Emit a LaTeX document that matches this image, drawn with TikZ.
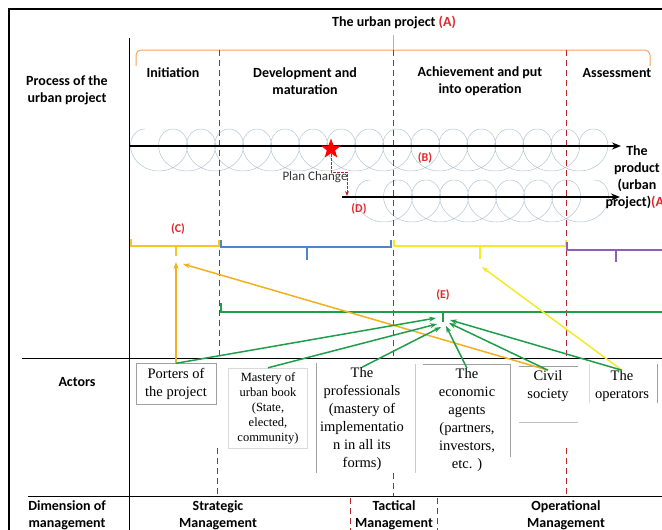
\documentclass[tikz,border=0pt]{standalone}
\usepackage{fontspec}
\setmainfont{Liberation Serif}
\newfontfamily\headfont{Carlito}
\usetikzlibrary{shapes.geometric,arrows.meta}

\definecolor{labred}{HTML}{E0262B}
\definecolor{dashred}{HTML}{B5262C}
\definecolor{braceor}{HTML}{F2A35E}
\definecolor{coilgray}{HTML}{B4C4D2}
\definecolor{phyellow}{HTML}{F3C623}
\definecolor{phyellowb}{HTML}{F2EA2A}
\definecolor{phblue}{HTML}{4A86C8}
\definecolor{phpurple}{HTML}{8B5FBF}
\definecolor{actgreen}{HTML}{1E9E4A}
\definecolor{actorange}{HTML}{F2B01E}
\definecolor{boxgray}{HTML}{A0A0A0}

\begin{document}
\begin{tikzpicture}[x=1pt,y=-1pt,
	head/.style={font=\headfont\bfseries\fontsize{14}{17}\selectfont, align=center, inner sep=0pt},
	redlab/.style={font=\headfont\bfseries\fontsize{12}{14}\selectfont, text=labred, inner sep=0pt},
	actor/.style={font=\fontsize{14.5}{18}\selectfont, align=center, inner sep=0pt},
	dashline/.style={dashred, dash pattern=on 6pt off 4pt, line width=1pt},
	coilline/.style={coilgray, line width=0.5pt},
	mainarrow/.style={line width=1.8pt, -{Stealth[length=9pt,width=7pt]}},
	grarrow/.style={actgreen, line width=1.5pt, -{Stealth[length=7pt,width=5pt]}},
	oarrow/.style={actorange, line width=1.5pt, -{Stealth[length=7pt,width=5pt]}},
	yarrow/.style={phyellowb, line width=1.5pt, -{Stealth[length=7pt,width=5pt]}},
	]
	\useasboundingbox (0,0) rectangle (662,530);
	
	% frame and the grid
	\draw[line width=1.2pt] (9,530) -- (9,9) -- (662,9);
	\draw[line width=1pt] (129,38) -- (129,530);
	\draw[line width=1pt] (22,358) -- (662,358);
	\draw[line width=1pt] (28,496) -- (662,496);
	
	% row titles
	\node[head] (proc) at (67,90) {Process of the\\urban project};
	\node[head] (actors) at (77,382) {Actors};
	\node[head] (dimen) at (67,515) {Dimension of\\management};
	
	% the urban project and its phases
	\node[head] (title) at (394,22) {The urban project \textcolor{labred}{(A)}};
	\coordinate (brtop) at (393,35);
	\draw[braceor, line width=1pt, rounded corners=5pt] (136,66) -- (136,50) -- (650,50) -- (650,66);
	\draw[braceor, line width=1pt] (brtop) -- (393,50);
	\node[head] (ini) at (173,73) {Initiation};
	\node[head] (dev) at (305,81) {Development and\\maturation};
	\node[head] (ach) at (480,81) {Achievement and put\\into operation};
	\node[head] (assess) at (617,73) {Assessment};
	
	% loops of the process
	\def\ca{4.46} % pas
	\def\cb{21} % rayon
	\draw[coilline] plot[domain=0:5850, samples=1100, variable=\t]
		({145 + (\t/57.2958)*\ca - \cb*sin(\t)}, {150 - \cb*cos(\t)});
	\draw[coilline] plot[domain=0:2880, samples=600, variable=\t]
		({370 + (\t/57.2958)*\ca - \cb*sin(\t)}, {201 - \cb*cos(\t)});
	
	% phase limits
	\foreach \x/\ya in {219/50, 393/50, 566/50}
		\draw[dashline] (\x,\ya) -- (\x,356);
	\foreach \x/\ya in {217/448, 393/473, 566/448}
		\draw[dashline] (\x,\ya) -- (\x,496);
	\foreach \x in {350,437}
		\draw[dashline] (\x,498) -- (\x,530);
	
	% process arrows
	\coordinate (a0) at (129,146);
	\coordinate (a1) at (621,146);
	\coordinate (b0) at (342,197);
	\coordinate (b1) at (620,197);
	\draw[mainarrow] (a0) -- (a1);
	\draw[mainarrow] (b0) -- (b1);
	\node[head, anchor=north] (prod) at (637,145) {The\\product\\(urban\\project)\textcolor{labred}{(A)}};
	
	% plan change
	\node[star, star points=5, star point ratio=2.4, fill=red, minimum size=21pt, inner sep=0pt] (chg) at (331,149) {};
	\coordinate (dtip) at (347,196);
	\draw[dashred, dash pattern=on 2.5pt off 1.5pt, line width=0.9pt, -{Stealth[length=5pt,width=4pt]}]
		(chg.center) ++(0,5) |- (dtip |- 0,172) -- (dtip);
	\node[font=\headfont\fontsize{13}{15}\selectfont, text=black!80, inner sep=0pt] (planch) at (315,177) {Plan Change};
	\node[redlab] (lblB) at (425,158) {(B)};
	\node[redlab] (lblD) at (359,209) {(D)};
	\node[redlab] (lblC) at (178,229) {(C)};
	\node[redlab] (lblE) at (443,295) {(E)};
	
	% phase brackets
	\draw[phyellow, line width=1.2pt] (131,239) -- (131,246) -- (219,246) -- (219,240);
	\draw[phyellow, line width=1.2pt] (176,246) -- (176,256);
	\draw[phblue, line width=1.2pt] (221,240) -- (221,247) -- (391,247) -- (391,240);
	\draw[phblue, line width=1.2pt] (307,247) -- (307,260);
	\draw[phyellowb, line width=1.2pt] (394,240) -- (394,246) -- (566,246) -- (566,240);
	\draw[phyellowb, line width=1.2pt] (480,246) -- (480,259);
	\draw[phpurple, line width=1.2pt] (567,242) -- (567,250) -- (662,250);
	\draw[phpurple, line width=1.2pt] (616,250) -- (616,262);
	\draw[actgreen, line width=1.2pt] (221,303) -- (221,312) -- (662,312);
	\draw[actgreen, line width=1.2pt] (443,312) -- (443,322);
	
	% actors
	\node[actor, draw=boxgray, minimum width=80pt, minimum height=41pt] (porters) at (176,384) {Porters of\\the project};
	\node[actor, font=\fontsize{12.5}{15}\selectfont, draw=black!15, minimum width=79pt, minimum height=80pt] (mastery) at (268,408)
		{Mastery of\\urban book\\(State,\\elected,\\community)};
	\node[actor] (prof) at (362,419) {The\\professionals\\(mastery of\\implementatio\\n in all its\\forms)};
	\node[actor] (econ) at (467,420) {The\\economic\\agents\\(partners,\\investors,\\etc. )};
	\node[actor] (civil) at (548,386) {Civil\\society};
	\node[actor] (oper) at (622,386) {The\\operators};
	\draw[boxgray, line width=1pt] (316,363) -- (316,473);
	\draw[black!20, line width=0.8pt] (415,364) -- (415,473);
	\draw[boxgray, line width=1pt] (423,364) -- (510,364) -- (510,457);
	\draw[boxgray, line width=1pt] (519,366) -- (578,366);
	\draw[black!25, line width=1pt] (519,422) -- (578,422);
	\draw[black!15, line width=0.8pt] (589,364) -- (589,403);
	\draw[boxgray, line width=1pt] (657,364) -- (657,403);
	
	% actors to phases
	\coordinate (cini) at (176,262);
	\coordinate (cini2) at (183,264);
	\coordinate (cach) at (482,267);
	\draw[oarrow] (porters.north) -- (cini);
	\draw[oarrow] (civil.north) -- (cini2);
	\draw[yarrow] (oper.north) -- (cach);
	
	% actors to (E)
	\coordinate (e1) at (436,318);
	\coordinate (e2) at (437,324);
	\coordinate (e3) at (441,327);
	\coordinate (e4) at (446,326);
	\coordinate (e5) at (449,323);
	\coordinate (e6) at (450,320);
	\draw[grarrow] (porters.north) -- (e1);
	\draw[grarrow] (mastery.north) -- (e2);
	\draw[grarrow] (prof.north) -- (e3);
	\draw[grarrow] (econ.north) -- (e4);
	\draw[grarrow] (civil.north) -- (e5);
	\draw[grarrow] (oper.north) -- (e6);
	
	% dimension of management
	\node[head] (strat) at (218,515) {Strategic\\Management};
	\node[head] (tact) at (394,515) {Tactical\\Management};
	\node[head] (opman) at (566,515) {Operational\\Management};
	
\end{tikzpicture}
\end{document}
